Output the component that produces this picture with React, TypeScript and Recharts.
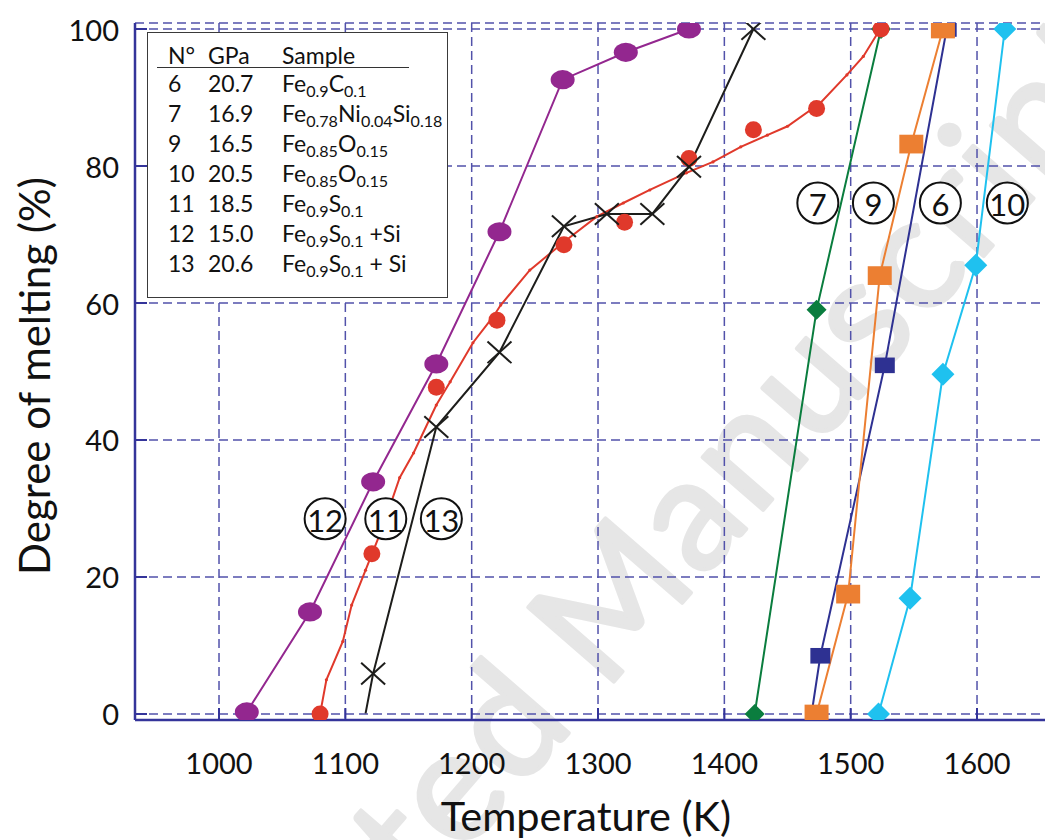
import React from "react";
import { ComposedChart, Line, XAxis, YAxis, CartesianGrid } from "recharts";

const FONT = "Lato, 'Noto Sans', sans-serif";
const AXIS = "#34349a";
const GRID = "#5252aa";

const xTicks = [1000, 1100, 1200, 1300, 1400, 1500, 1600];
const yTicks = [0, 20, 40, 60, 80, 100];

// degree of melting (%) vs temperature (K), one array per run
const run12 = [
  { t: 1022, d: 0.3 }, { t: 1072, d: 14.9 }, { t: 1122, d: 33.9 }, { t: 1172, d: 51.1 },
  { t: 1222, d: 70.4 }, { t: 1272, d: 92.6 }, { t: 1322, d: 96.6 }, { t: 1372, d: 100 },
];
const run11 = [
  { t: 1080, d: 0 }, { t: 1121, d: 23.4 }, { t: 1172, d: 47.7 }, { t: 1220, d: 57.5 },
  { t: 1273, d: 68.5 }, { t: 1321, d: 71.8 }, { t: 1372, d: 81.1 }, { t: 1423, d: 85.3 },
  { t: 1473, d: 88.4 }, { t: 1524, d: 100 },
];
// fitted curve through run 11
const run11Fit = [
  { t: 1080, d: 0 }, { t: 1085, d: 5.0 }, { t: 1098, d: 10.6 }, { t: 1105, d: 15.9 },
  { t: 1116, d: 21.0 }, { t: 1130, d: 27.5 }, { t: 1143, d: 34.5 }, { t: 1154, d: 38.1 },
  { t: 1172, d: 45.1 }, { t: 1183, d: 48.5 }, { t: 1201, d: 54.2 }, { t: 1217, d: 58.0 },
  { t: 1223, d: 59.7 }, { t: 1246, d: 64.8 }, { t: 1275, d: 69.2 }, { t: 1299, d: 72.6 },
  { t: 1320, d: 74.6 }, { t: 1341, d: 76.5 }, { t: 1370, d: 79.0 }, { t: 1391, d: 80.6 },
  { t: 1413, d: 82.8 }, { t: 1434, d: 84.5 }, { t: 1450, d: 85.8 }, { t: 1476, d: 89.2 },
  { t: 1497, d: 93.3 }, { t: 1510, d: 96.0 }, { t: 1523, d: 99.9 },
];
const run13 = [
  { t: 1116, d: 0.1 }, { t: 1122, d: 5.9 }, { t: 1172, d: 41.9 }, { t: 1222, d: 52.8 },
  { t: 1273, d: 71.2 }, { t: 1307, d: 73.0 }, { t: 1343, d: 73.0 }, { t: 1372, d: 79.9 },
  { t: 1423, d: 100 },
];
const run7 = [{ t: 1424, d: 0 }, { t: 1473, d: 59 }, { t: 1524, d: 100 }];
const run9 = [
  { t: 1473, d: 0 }, { t: 1498, d: 17.5 }, { t: 1523, d: 64 }, { t: 1548, d: 83.2 }, { t: 1573, d: 100 },
];
const run6 = [{ t: 1469, d: 0 }, { t: 1476, d: 8.5 }, { t: 1527, d: 50.9 }, { t: 1576, d: 100 }];
const run10 = [
  { t: 1522, d: 0 }, { t: 1547, d: 16.9 }, { t: 1573, d: 49.6 }, { t: 1599, d: 65.5 }, { t: 1622, d: 100 },
];

const runLabels = [
  { t: 1084, d: 28.5, n: "12" }, { t: 1132, d: 28.5, n: "11" }, { t: 1176, d: 28.5, n: "13" },
  { t: 1474, d: 74.6, n: "7" }, { t: 1518, d: 74.6, n: "9" }, { t: 1571, d: 74.6, n: "6" },
  { t: 1624, d: 74.6, n: "10" },
];

const legendRows = [
  { n: "6", gpa: "20.7", parts: [["Fe", "0.9"], ["C", "0.1"]], tail: "" },
  { n: "7", gpa: "16.9", parts: [["Fe", "0.78"], ["Ni", "0.04"], ["Si", "0.18"]], tail: "" },
  { n: "9", gpa: "16.5", parts: [["Fe", "0.85"], ["O", "0.15"]], tail: "" },
  { n: "10", gpa: "20.5", parts: [["Fe", "0.85"], ["O", "0.15"]], tail: "" },
  { n: "11", gpa: "18.5", parts: [["Fe", "0.9"], ["S", "0.1"]], tail: "" },
  { n: "12", gpa: "15.0", parts: [["Fe", "0.9"], ["S", "0.1"]], tail: " +Si" },
  { n: "13", gpa: "20.6", parts: [["Fe", "0.9"], ["S", "0.1"]], tail: " + Si" },
];

type Shape = "ellipse" | "circle" | "tiny" | "cross" | "diamond" | "square";

function makeDot(shape: Shape, color: string, size: number, skipFirst = false) {
  return (p: any) => {
    const { cx, cy, index, key } = p;
    const k = key ?? `${shape}-${index}`;
    if (cx == null || cy == null || (skipFirst && index === 0)) return <g key={k} />;
    switch (shape) {
      case "ellipse":
        return <ellipse key={k} cx={cx} cy={cy} rx={size} ry={size * 0.8} fill={color} />;
      case "circle":
      case "tiny":
        return <circle key={k} cx={cx} cy={cy} r={size} fill={color} />;
      case "cross":
        return (
          <g key={k} stroke={color} strokeWidth={2}>
            <line x1={cx - size} y1={cy - size * 0.9} x2={cx + size} y2={cy + size * 0.9} />
            <line x1={cx - size} y1={cy + size * 0.9} x2={cx + size} y2={cy - size * 0.9} />
          </g>
        );
      case "diamond":
        return (
          <polygon key={k} fill={color}
            points={`${cx},${cy - size} ${cx + size},${cy} ${cx},${cy + size} ${cx - size},${cy}`} />
        );
      case "square":
        return <rect key={k} x={cx - size} y={cy - size * 0.78} width={size * 2} height={size * 1.56} fill={color} />;
      default:
        return <g key={k} />;
    }
  };
}

function labelDot(p: any) {
  const { cx, cy, index, payload, key } = p;
  return (
    <g key={key ?? `lab-${index}`}>
      <circle cx={cx} cy={cy} r={20.5} fill="#fff" stroke="#111" strokeWidth={2} />
      <text x={cx} y={cy + 1} textAnchor="middle" dominantBaseline="central"
        fontFamily={FONT} fontSize={31} fill="#111">{payload.n}</text>
    </g>
  );
}

function BottomTick(p: any) {
  const { x, y, payload } = p;
  return (
    <g>
      <line x1={x} x2={x} y1={y} y2={y - 12} stroke={AXIS} strokeWidth={2} />
      <text x={x} y={y + 42} textAnchor="middle" dominantBaseline="central"
        fontFamily={FONT} fontSize={29} fill="#111">{payload.value}</text>
    </g>
  );
}
function TopTick(p: any) {
  const { x, y } = p;
  return <line x1={x} x2={x} y1={y} y2={y + 12} stroke={AXIS} strokeWidth={2} />;
}
function LeftTick(p: any) {
  const { x, y, payload } = p;
  return (
    <g>
      <line x1={x} x2={x + 12} y1={y} y2={y} stroke={AXIS} strokeWidth={2} />
      <text x={x - 16} y={y} textAnchor="end" dominantBaseline="central"
        fontFamily={FONT} fontSize={29} fill="#111">{payload.value}</text>
    </g>
  );
}
function RightTick(p: any) {
  const { x, y } = p;
  return <line x1={x} x2={x - 12} y1={y} y2={y} stroke={AXIS} strokeWidth={2} />;
}

export default function App() {
  const series: [any[], string, Shape, number, boolean, boolean][] = [
    [run12, "#93278f", "ellipse", 12, false, true],
    [run7, "#0a7d3e", "diamond", 10, false, true],
    [run11Fit, "#e0392b", "tiny", 1.6, false, true],
    [run11, "#e0392b", "circle", 8.5, false, false],
    [run13, "#1d1d1b", "cross", 12, true, true],
    [run6, "#2e3192", "square", 10, true, true],
    [run9, "#ec7f32", "square", 12, false, true],
    [run10, "#1fc1ef", "diamond", 11.5, false, true],
  ];
  return (
    <div style={{ position: "absolute", left: 0, top: 0, width: 1045, height: 840, overflow: "hidden", background: "#fff" }}>
      <svg style={{ position: "absolute", left: 0, top: 0 }} width={1045} height={840}>
        <g transform="translate(874,382) rotate(-49)" fontFamily={FONT} fontSize={158} letterSpacing={4}
          fill="#e6e6e6" stroke="#e6e6e6" strokeWidth={4} strokeLinejoin="round">
          <text x={0} y={0} textAnchor="middle">Manuscript</text>
          <text x={-450} y={0} textAnchor="end">Accepted</text>
        </g>
        <text x={586} y={815} textAnchor="middle" dominantBaseline="central"
          fontFamily={FONT} fontSize={41.5} fill="#111">Temperature (K)</text>
        <text transform="translate(34,376) rotate(-90)" textAnchor="middle" dominantBaseline="central"
          fontFamily={FONT} fontSize={42} fill="#111">Degree of melting (%)</text>
      </svg>
      <div style={{ position: "absolute", left: 0, top: 0 }}>
        <ComposedChart width={1060} height={840} margin={{ top: 23, right: 14, bottom: 60, left: 35 }}>
          <CartesianGrid stroke={GRID} strokeWidth={1.5} strokeDasharray="9 5" />
          <XAxis xAxisId={0} type="number" dataKey="t" domain={[933.5, 1654.6]} ticks={xTicks}
            allowDataOverflow height={60} tickSize={0} tickMargin={0} tick={<BottomTick />}
            axisLine={{ stroke: AXIS, strokeWidth: 2.5 }} tickLine={false} />
          <XAxis xAxisId="top" orientation="top" type="number" dataKey="t" domain={[933.5, 1654.6]} ticks={xTicks}
            allowDataOverflow height={0} tickSize={0} tickMargin={0} tick={<TopTick />}
            axisLine={{ stroke: AXIS, strokeWidth: 2.5 }} tickLine={false} />
          <YAxis yAxisId={0} type="number" domain={[-0.876, 100.876]} ticks={yTicks} allowDataOverflow
            width={100} tickSize={0} tickMargin={0} tick={<LeftTick />}
            axisLine={{ stroke: AXIS, strokeWidth: 2.5 }} tickLine={false} />
          <YAxis yAxisId="right" orientation="right" type="number" domain={[-0.876, 100.876]} ticks={yTicks}
            allowDataOverflow width={0} tickSize={0} tickMargin={0} tick={<RightTick />}
            axisLine={{ stroke: AXIS, strokeWidth: 2.5 }} tickLine={false} />
          {series.map(([data, color, shape, size, skipFirst, line], i) => (
            <Line key={i} data={data} dataKey="d" type="linear"
              stroke={line ? color : "none"} strokeWidth={2}
              dot={makeDot(shape, color, size, skipFirst)} activeDot={false}
              isAnimationActive={false} />
          ))}
          <Line data={runLabels} dataKey="d" stroke="none" dot={labelDot} activeDot={false} isAnimationActive={false} />
        </ComposedChart>
      </div>
      <div style={{ position: "absolute", left: 147, top: 32, width: 299, height: 264, border: "1.5px solid #3a3a3a",
        background: "#fff", fontFamily: FONT, fontSize: 23, color: "#111" }}>
        <div style={{ position: "absolute", left: 20, top: 8, lineHeight: "28px", whiteSpace: "nowrap" }}>N°</div>
        <div style={{ position: "absolute", left: 60, top: 8, lineHeight: "28px" }}>GPa</div>
        <div style={{ position: "absolute", left: 134, top: 8, lineHeight: "28px" }}>Sample</div>
        <div style={{ position: "absolute", left: 9, top: 34, width: 252, borderTop: "1.5px solid #333" }} />
        {legendRows.map((r, i) => (
          <div key={r.n} style={{ position: "absolute", left: 0, top: 36 + i * 30, height: 28, lineHeight: "28px", whiteSpace: "nowrap" }}>
            <span style={{ position: "absolute", left: 20 }}>{r.n}</span>
            <span style={{ position: "absolute", left: 60 }}>{r.gpa}</span>
            <span style={{ position: "absolute", left: 134 }}>
              {r.parts.map(([el, sub]) => (
                <React.Fragment key={el}>
                  {el}<sub style={{ fontSize: "0.7em", verticalAlign: "-0.3em", lineHeight: 0 }}>{sub}</sub>
                </React.Fragment>
              ))}
              {r.tail}
            </span>
          </div>
        ))}
      </div>
    </div>
  );
}
